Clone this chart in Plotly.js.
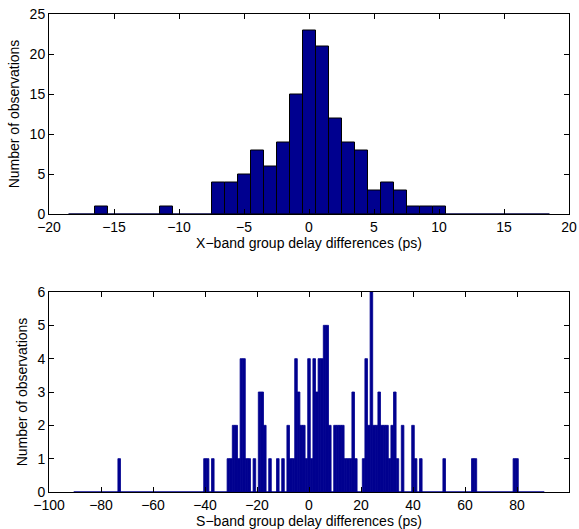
<!DOCTYPE html>
<html>
<head>
<meta charset="utf-8">
<script src="https://cdn.plot.ly/plotly-3.0.1.min.js"></script>
<style>html,body{margin:0;padding:0;background:#fff;}#chart{width:579px;height:529px;}</style>
</head>
<body>
<div id="chart"></div>
<script>
// X-band histogram (bin centers, counts) — 1 ps bins
const xBinFirst = -18, xBinLast = 18;
const xBins   = [-16, -11, -7, -6, -5, -4, -3, -2, -1, 0, 1, 2, 3, 4, 5, 6, 7, 8, 9, 10];
const xCounts = [  1,   1,  4,  4,  5,  8,  6,  9, 15, 23, 21, 12, 9, 8, 3, 4, 3, 1, 1, 1];

// S-band histogram (non-empty bins only) — 1 ps bins
const sBinFirst = -90, sBinLast = 90;
const sBins   = [-73, -40, -39, -37, -31, -30, -29, -28, -27, -26, -25, -24, -23, -21, -19, -18, -17, -15, -12, -10,
                 -8, -7, -6, -5, -4, -3, -2, -1, 0, 1, 2, 3, 4, 5, 6, 7, 8, 10, 11, 12, 13, 14, 15, 16, 17, 18,
                 21, 22, 23, 24, 25, 26, 27, 28, 29, 30, 31, 32, 33, 34, 36, 40, 41, 43, 52, 63, 64, 79, 80];
const sCounts = [1, 1, 1, 1, 1, 1, 2, 2, 1, 4, 4, 1, 1, 1, 3, 3, 2, 1, 1, 1,
                 2, 1, 1, 4, 3, 2, 2, 1, 4, 1, 4, 3, 4, 4, 5, 5, 2, 2, 2, 2, 2, 1, 1, 1, 3, 1,
                 1, 4, 2, 6, 2, 2, 3, 2, 2, 2, 1, 2, 3, 1, 2, 2, 1, 1, 1, 1, 1, 1, 1];

const xTitle = 'X\u2212band group delay differences (ps)';
const sTitle = 'S\u2212band group delay differences (ps)';
const yTitle = 'Number of observations';

const navy = '#00008F';
const fnt = {family: 'Liberation Sans, Arial, sans-serif', size: 14, color: '#000'};

const traces = [
  {type: 'scatter', mode: 'lines', x: [xBinFirst - 0.5, xBinLast + 0.5], y: [0, 0],
   line: {color: '#000040', width: 1.5}, xaxis: 'x', yaxis: 'y', hoverinfo: 'skip'},
  {type: 'bar', x: xBins, y: xCounts, width: 1,
   marker: {color: navy, line: {color: '#000', width: 1}}, xaxis: 'x', yaxis: 'y'},
  {type: 'scatter', mode: 'lines', x: [sBinFirst - 0.5, sBinLast + 0.5], y: [0, 0],
   line: {color: navy, width: 1.5}, xaxis: 'x2', yaxis: 'y2', hoverinfo: 'skip'},
  {type: 'bar', x: sBins, y: sCounts, width: 1,
   marker: {color: navy, line: {color: navy, width: 0.8}}, xaxis: 'x2', yaxis: 'y2'}
];

const axBase = {
  showline: true, linecolor: '#000', linewidth: 1, mirror: 'ticks',
  ticks: 'inside', ticklen: 5, tickwidth: 1, tickcolor: '#000',
  showgrid: false, zeroline: false, tickfont: fnt, automargin: false
};

const layout = {
  width: 579, height: 529,
  margin: {l: 49, r: 10, t: 14, b: 37},
  paper_bgcolor: '#fff', plot_bgcolor: '#fff',
  showlegend: false, bargap: 0, font: fnt,
  xaxis: Object.assign({}, axBase, {anchor: 'y', range: [-20, 20], tickvals: [-20,-15,-10,-5,0,5,10,15,20],
    title: {text: xTitle, font: fnt, standoff: 2}}),
  yaxis: Object.assign({}, axBase, {anchor: 'x', domain: [0.5816, 1], range: [0, 25], tickvals: [0,5,10,15,20,25],
    title: {text: yTitle, font: fnt, standoff: 6}}),
  xaxis2: Object.assign({}, axBase, {anchor: 'y2', range: [-100, 100], tickvals: [-100,-80,-60,-40,-20,0,20,40,60,80,100],
    title: {text: sTitle, font: fnt, standoff: 2}}),
  yaxis2: Object.assign({}, axBase, {anchor: 'x2', domain: [0, 0.4184], range: [0, 6], tickvals: [0,1,2,3,4,5,6],
    title: {text: yTitle, font: fnt, standoff: 6}})
};

Plotly.newPlot('chart', traces, layout, {displayModeBar: false, staticPlot: true});
</script>
</body>
</html>
